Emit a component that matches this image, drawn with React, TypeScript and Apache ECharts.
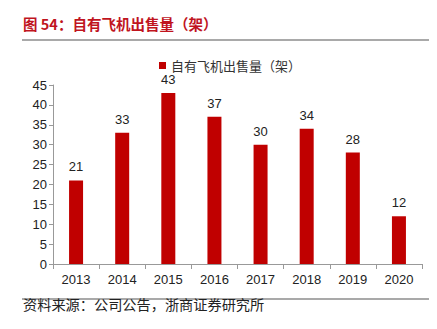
import React, { useEffect, useRef } from "react";
import * as echarts from "echarts";

const categories = ["2013", "2014", "2015", "2016", "2017", "2018", "2019", "2020"];
const sales = [21, 33, 43, 37, 30, 34, 28, 12];
const seriesName = "自有飞机出售量（架）";
const titleText = "图 54：自有飞机出售量（架）";
const sourceText = "资料来源：公司公告，浙商证券研究所";

export default function App() {
  const ref = useRef<HTMLDivElement>(null);
  useEffect(() => {
    if (!ref.current) return;
    const chart = echarts.init(ref.current, null, { renderer: "svg" });
    const latin = "'Liberation Sans', Arial, sans-serif";
    const cjk = "'Noto Sans CJK SC', sans-serif";
    chart.setOption({
      animation: false,
      backgroundColor: "#ffffff",
      legend: {
        top: 54,
        left: 154,
        itemWidth: 7,
        itemHeight: 7,
        itemGap: 6,
        icon: "rect",
        textStyle: { fontFamily: cjk, fontSize: 13, color: "#333" },
        data: [seriesName],
      },
      grid: { left: 53, right: 15, top: 85, bottom: 65, containLabel: false },
      xAxis: {
        type: "category",
        data: categories,
        axisLine: { lineStyle: { color: "#999", width: 1 } },
        axisTick: { show: true, length: 5, lineStyle: { color: "#999" } },
        axisLabel: { fontFamily: latin, fontSize: 13, color: "#222", margin: 9 },
      },
      yAxis: {
        type: "value",
        min: 0,
        max: 45,
        interval: 5,
        splitLine: { show: false },
        axisLine: { show: true, lineStyle: { color: "#999", width: 1 } },
        axisTick: { show: true, length: 4, lineStyle: { color: "#999" } },
        axisLabel: { fontFamily: latin, fontSize: 13, color: "#222", margin: 6 },
      },
      series: [
        {
          name: seriesName,
          type: "bar",
          data: sales,
          barWidth: 14,
          itemStyle: { color: "#C00000" },
          label: {
            show: true,
            position: "top",
            distance: 7,
            fontFamily: latin,
            fontSize: 13,
            color: "#222",
          },
        },
      ],
      graphic: [
        {
          type: "text",
          left: 23,
          top: 16,
          style: {
            text: titleText,
            fontFamily: cjk,
            fontSize: 14.5,
            fontWeight: "bold",
            fill: "#C0141E",
          },
        },
        {
          type: "line",
          shape: { x1: 22, y1: 40, x2: 437, y2: 40 },
          style: { stroke: "#555", lineWidth: 1.2 },
        },
        {
          type: "line",
          shape: { x1: 22, y1: 299, x2: 437, y2: 299 },
          style: { stroke: "#555", lineWidth: 1.2 },
        },
        {
          type: "text",
          left: 23,
          top: 297,
          style: {
            text: sourceText,
            fontFamily: cjk,
            fontSize: 14.2,
            fill: "#222",
          },
        },
      ],
    });
    return () => chart.dispose();
  }, []);
  return <div ref={ref} style={{ width: 437, height: 329, margin: -8 }} />;
}
